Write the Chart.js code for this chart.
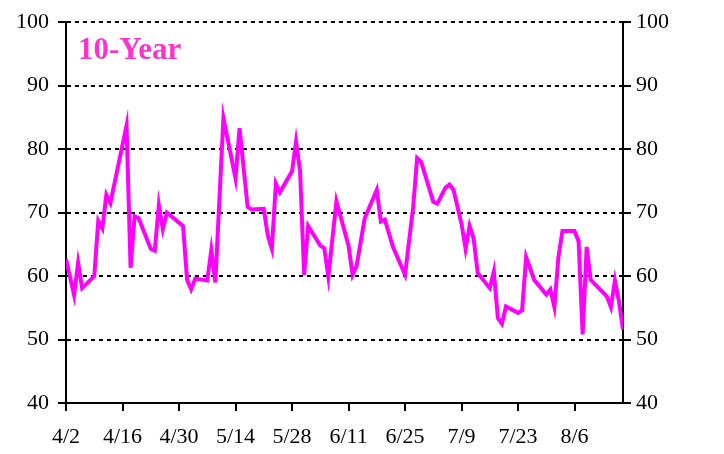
<!DOCTYPE html>
<html>
<head>
<meta charset="utf-8">
<script src="https://cdn.jsdelivr.net/npm/chart.js@4.4.0/dist/chart.umd.min.js"></script>
<style>
  body { margin: 0; background: #fff; }
  #wrap { width: 724px; height: 454px; }
</style>
</head>
<body>
<div id="wrap"><canvas id="ratioChart" width="724" height="454"></canvas></div>
<script>
// ---- data (days after 4/2, value) ----
const seriesTitle = '10-Year';
const dayOffsets = [
  0, 2, 3, 4, 7, 8, 9, 10, 11, 15, 16, 17, 18, 21, 22, 23, 24, 25, 29, 30,
  31, 32, 35, 36, 37, 39, 42, 43, 45, 46, 49, 50, 51, 52, 53, 56, 57, 58, 59, 60,
  63, 64, 65, 67, 70, 71, 72, 74, 77, 78, 79, 81, 84, 86, 87, 88, 91, 92, 94, 95,
  96, 98, 99, 100, 101, 102, 105, 106, 107, 108, 109, 112, 113, 114, 116, 119, 120, 121, 122, 123,
  126, 127, 128, 129, 130, 134, 135, 136, 137, 138
];
const ratioValues = [
  62.7, 57.0, 62.1, 58.1, 60.0, 68.7, 67.5, 72.8, 71.5, 83.7, 61.3, 69.4, 69.1, 64.3, 64.0, 71.2, 67.4, 70.0, 67.9, 59.4,
  57.9, 59.6, 59.3, 64.1, 59.0, 84.9, 75.4, 83.3, 70.9, 70.5, 70.6, 66.4, 64.3, 74.6, 73.2, 76.5, 81.2, 76.5, 60.2, 67.9,
  64.8, 64.4, 59.9, 71.8, 64.8, 60.2, 61.6, 69.1, 73.6, 68.6, 68.9, 64.6, 60.2, 70.8, 78.6, 78.0, 71.7, 71.4, 73.9, 74.4,
  73.6, 68.2, 64.3, 67.9, 65.9, 60.5, 58.1, 60.7, 53.4, 52.5, 55.2, 54.2, 54.6, 63.0, 59.4, 57.1, 57.9, 55.1, 63.0, 67.1,
  67.1, 65.5, 50.8, 64.6, 59.4, 56.8, 55.1, 59.3, 56.0, 51.6
];
const dateLabels = ['4/2', '4/16', '4/30', '5/14', '5/28', '6/11', '6/25', '7/9', '7/23', '8/6'];
const dayMax = 138;
const yMin = 40;
const yMax = 100;

const serif = '"Liberation Serif", "Times New Roman", serif';

// title drawn inside the plot area, top left
const titlePlugin = {
    id: 'innerTitle',
    afterDraw(chart) {
        const { ctx, chartArea } = chart;
        ctx.save();
        ctx.font = 'bold 31px ' + serif;
        ctx.fillStyle = '#ff33cc';
        ctx.textBaseline = 'alphabetic';
        ctx.fillText(seriesTitle, chartArea.left + 12, chartArea.top + 37);
        ctx.restore();
    }
};

const ctx = document.getElementById('ratioChart');
new Chart(ctx, {
    type: 'line',
    data: {
        datasets: [{
            data: dayOffsets.map((d, i) => ({ x: d, y: ratioValues[i] })),
            borderColor: '#ff00ff',
            borderWidth: 4,
            pointRadius: 0,
            tension: 0,
            fill: false
        }]
    },
    options: {
        responsive: false,
        animation: false,
        layout: { padding: { top: 17, left: 0, right: 0, bottom: 0 } },
        plugins: {
            legend: { display: false },
            tooltip: { enabled: false }
        },
        scales: {
            x: {
                type: 'linear',
                min: 0,
                max: dayMax,
                afterFit: s => { s.height = 51; },
                grid: {
                    drawOnChartArea: false,
                    drawTicks: true,
                    tickLength: 8,
                    color: '#000',
                    lineWidth: 2
                },
                border: { display: true, color: '#000', width: 2 },
                ticks: {
                    stepSize: 14,
                    includeBounds: false,
                    autoSkip: false,
                    maxRotation: 0,
                    padding: 13,
                    color: '#000',
                    font: { family: serif, size: 22 },
                    callback: v => dateLabels[v / 14] || ''
                }
            },
            y: {
                position: 'left',
                min: yMin,
                max: yMax,
                afterFit: s => { s.width = 66; },
                grid: {
                    color: c => (c.tick && c.tick.value === yMin) ? 'rgba(0,0,0,0)' : '#000',
                    tickColor: '#000',
                    lineWidth: 2,
                    tickLength: 8
                },
                border: { display: true, color: '#000', width: 2, dash: [4, 4] },
                ticks: {
                    stepSize: 10,
                    padding: 9,
                    color: '#000',
                    font: { family: serif, size: 22 }
                }
            },
            y2: {
                position: 'right',
                min: yMin,
                max: yMax,
                afterFit: s => { s.width = 101; },
                grid: {
                    drawOnChartArea: false,
                    color: '#000',
                    lineWidth: 2,
                    tickLength: 8
                },
                border: { display: true, color: '#000', width: 2 },
                ticks: {
                    stepSize: 10,
                    padding: 5,
                    color: '#000',
                    font: { family: serif, size: 22 }
                }
            }
        }
    },
    plugins: [titlePlugin]
});
</script>
</body>
</html>
